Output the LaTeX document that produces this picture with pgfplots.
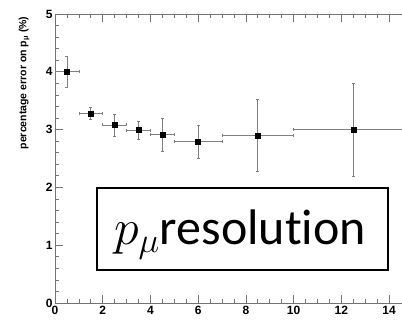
\documentclass[border=0pt]{standalone}
\usepackage{fix-cm}
\usepackage{fontspec}
\setmainfont{Liberation Sans}
\newfontfamily\carlito[Ligatures=NoCommon]{Carlito}
\usepackage{pgfplots}
\pgfplotsset{compat=1.18}
\pgfplotstableread{
x y ex ey
0.5 4.00 0.5 0.26
1.5 3.28 0.5 0.10
2.5 3.08 0.5 0.19
3.5 2.99 0.5 0.16
4.5 2.91 0.5 0.28
6 2.79 1 0.29
8.5 2.90 1.5 0.62
12.5 3.00 2.5 0.80
}\datatab
\begin{document}
\begin{tikzpicture}[x=1pt,y=1pt]
\useasboundingbox (0,0) rectangle (402,320);
\begin{axis}[
  at={(55pt,17pt)}, anchor=south west, scale only axis,
  width=357.9pt, height=289pt,
  xmin=0, xmax=15, ymin=0, ymax=5,
  xtick={0,2,...,14}, ytick={0,1,...,5},
  minor x tick num=3, minor y tick num=4,
  tick align=inside,
  major tick length=8pt, minor tick length=4pt,
  axis line style={black!55, line width=0.8pt},
  every tick/.style={black!55, line width=0.7pt},
  ticklabel style={font=\bfseries\fontsize{12}{12}\selectfont},
  yticklabel style={xshift=1pt},
  /pgf/number format/assume math mode=true,
]
\addplot[only marks, mark=square*, mark size=2.5pt, black,
  error bars/.cd, x dir=both, x explicit, y dir=both, y explicit,
  error bar style={black!50, line width=0.8pt},
  error mark options={rotate=90, mark size=1.5pt, black!50, line width=0.6pt}]
  table[x=x, y=y, x error=ex, y error=ey] {\datatab};
\end{axis}
\node[rotate=90, anchor=east, font=\bfseries\fontsize{10.5}{10.5}\selectfont] at (24,307) {percentage error on p\textsubscript{μ} (\%)};
\draw[line width=1.3pt, fill=white] (97,50) rectangle (388,132);
\node[anchor=base, inner sep=0pt] at (240,75) {\carlito\fontsize{50}{52}\selectfont $p_\mu$resolution};
\end{tikzpicture}
\end{document}
